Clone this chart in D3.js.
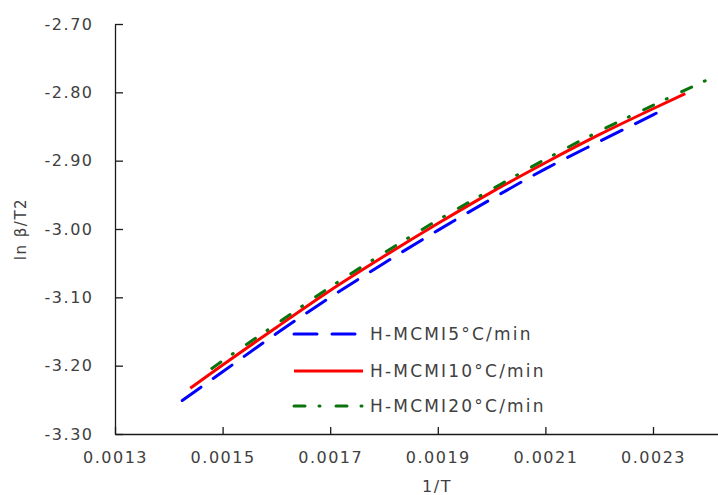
<!DOCTYPE html>
<html>
<head>
	<title></title>
	<script src="https://d3js.org/d3.v7.min.js" charset="utf-8"></script>
	<style type="text/css">
		body {
			margin: 0;
			background-color: #ffffff;
			font-family: 'DejaVu Sans', sans-serif;
		}
		svg text {
			fill: #404040;
			letter-spacing: 1.5px;
		}
	</style>
</head>
<body>

	<div id="chart"></div>

	<script type="text/javascript">

		// 1/T vs ln beta/T2
		var series_names = ['H-MCMI5°C/min', 'H-MCMI10°C/min', 'H-MCMI20°C/min'];

		var blue_x = [0.001425, 0.0015, 0.0016, 0.0017, 0.0018, 0.0019, 0.0020, 0.0021, 0.0022, 0.0023, 0.00231];
		var blue_y = [-3.251, -3.209, -3.153, -3.100, -3.050, -3.002, -2.956, -2.912, -2.872, -2.833, -2.829];

		var red_x = [0.00144, 0.0015, 0.0016, 0.0017, 0.0018, 0.0019, 0.0020, 0.0021, 0.0022, 0.0023, 0.00236];
		var red_y = [-3.233, -3.199, -3.144, -3.090, -3.040, -2.992, -2.946, -2.903, -2.862, -2.824, -2.802];

		var green_x = [0.00148, 0.0015, 0.0016, 0.0017, 0.0018, 0.0019, 0.0020, 0.0021, 0.0022, 0.0023, 0.0024, 0.00246];
		var green_y = [-3.204, -3.193, -3.139, -3.085, -3.035, -2.987, -2.942, -2.898, -2.857, -2.819, -2.782, -2.761];

		var x_ticks = [0.0013, 0.0015, 0.0017, 0.0019, 0.0021, 0.0023];
		var y_ticks = [-2.70, -2.80, -2.90, -3.00, -3.10, -3.20, -3.30];

		var w = 718;
		var h = 495;

		var svg = d3.select('#chart')
			.append('svg')
			.attr('width', w)
			.attr('height', h);

		// plot runs past the right edge, the picture is cropped there
		var x = d3.scaleLinear()
			.domain([0.0013, 0.0025])
			.range([115, 760.6]);

		var y = d3.scaleLinear()
			.domain([-3.30, -2.70])
			.range([434, 24]);

		var xAxis = svg.append('g')
			.attr('transform', 'translate(0,434)')
			.call(d3.axisBottom(x)
				.tickValues(x_ticks)
				.tickFormat(function(d){ return d.toFixed(4); })
				.tickSizeInner(-7)
				.tickSizeOuter(0)
				.tickPadding(17.5));

		var yAxis = svg.append('g')
			.attr('transform', 'translate(115,0)')
			.call(d3.axisLeft(y)
				.tickValues(y_ticks)
				.tickFormat(function(d){ return d.toFixed(2); })
				.tickSizeInner(-8)
				.tickSizeOuter(0)
				.tickPadding(21.5));

		svg.selectAll('.domain, .tick line')
			.attr('stroke', '#1a1a1a')
			.attr('stroke-width', 1.3);

		svg.selectAll('.tick text')
			.attr('font-family', "'DejaVu Sans', sans-serif")
			.attr('font-size', '16px')
			.attr('fill', '#404040');

		// axis titles
		svg.append('text')
			.text('1/T')
			.attr('x', 437)
			.attr('y', 492)
			.attr('font-size', '16px')
			.attr('text-anchor', 'middle');

		svg.append('text')
			.text('ln β/T2')
			.attr('transform', 'translate(26,229) rotate(-90)')
			.attr('font-size', '15px')
			.attr('text-anchor', 'middle');

		var series = [
			{ name: series_names[0], xs: blue_x, ys: blue_y, color: '#0000ff', dash: '23,15' },
			{ name: series_names[1], xs: red_x, ys: red_y, color: '#ff0000', dash: null },
			{ name: series_names[2], xs: green_x, ys: green_y, color: '#0b730b', dash: '11,14,1,16' }
		];

		var line = d3.line()
			.x(function(d){ return x(d[0]); })
			.y(function(d){ return y(d[1]); })
			.curve(d3.curveMonotoneX);

		svg.selectAll('path.series')
			.data(series)
			.enter()
			.append('path')
			.attr('class', 'series')
			.attr('d', function(d){
				return line(d.xs.map(function(v, i){ return [v, d.ys[i]]; }));
			})
			.attr('fill', 'none')
			.attr('stroke', function(d){ return d.color; })
			.attr('stroke-width', 3)
			.attr('stroke-linecap', function(d){ return d.dash ? 'round' : 'butt'; })
			.attr('stroke-dasharray', function(d){ return d.dash; });

		// legend
		var legend = svg.selectAll('g.legend')
			.data(series)
			.enter()
			.append('g')
			.attr('class', 'legend')
			.attr('transform', function(d, i){
				return 'translate(294,' + [334, 371, 406][i] + ')';
			});

		legend.append('line')
			.attr('x1', 0)
			.attr('x2', 69)
			.attr('stroke', function(d){ return d.color; })
			.attr('stroke-width', 3)
			.attr('stroke-linecap', function(d){ return d.dash ? 'round' : 'butt'; })
			.attr('stroke-dasharray', function(d){ return d.dash; });

		legend.append('text')
			.text(function(d){ return d.name; })
			.attr('x', 76)
			.attr('y', 6)
			.attr('font-size', '17px')
			.style('letter-spacing', '2.2px');

	</script>
</body>
</html>
